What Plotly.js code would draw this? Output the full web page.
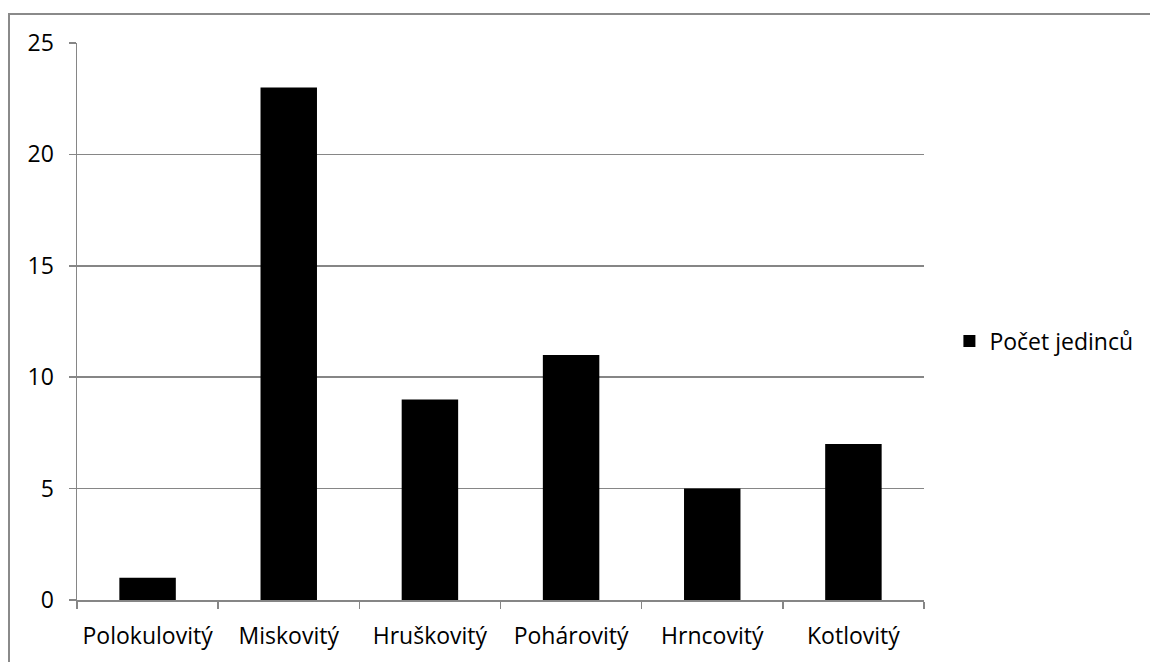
<!DOCTYPE html>
<html>
<head>
<meta charset="utf-8">
<script src="https://cdn.plot.ly/plotly-3.0.1.min.js"></script>
<style>
  html, body { margin: 0; padding: 0; background: #fff; }
  #chart { position: absolute; left: 0; top: 0; width: 1150px; height: 662px; }
  #frame { position: absolute; left: 8px; top: 13px; width: 1150px; height: 660px; border: 2px solid #8a8a8a; pointer-events: none; box-sizing: border-box; }
</style>
</head>
<body>
<div id="chart"></div>
<div id="frame"></div>
<script>
const categories = ["Polokulovitý", "Miskovitý", "Hruškovitý", "Pohárovitý", "Hrncovitý", "Kotlovitý"];
const values = [1, 23, 9, 11, 5, 7];
const seriesName = "Počet jedinců";
const yTicks = [0, 5, 10, 15, 20, 25];

const font = "'Open Sans', 'Noto Sans', sans-serif";

Plotly.newPlot("chart", [{
  type: "bar",
  x: categories,
  y: values,
  name: seriesName,
  marker: { color: "#000000", line: { color: "#000000", width: 0 } },
  showlegend: true
}], {
  width: 1150,
  height: 662,
  margin: { l: 77, r: 226, t: 43, b: 62 },
  paper_bgcolor: "#ffffff",
  plot_bgcolor: "#ffffff",
  bargap: 0.6,
  font: { family: font, size: 23, color: "#000000" },
  xaxis: {
    type: "category",
    tickson: "boundaries",
    ticks: "outside",
    ticklen: 7,
    tickwidth: 1.5,
    tickcolor: "#868686",
    showline: true,
    linecolor: "#868686",
    linewidth: 1.5,
    showgrid: false,
    ticklabelstandoff: 15,
    tickfont: { family: font, size: 23, color: "#000000" },
    fixedrange: true
  },
  yaxis: {
    range: [0, 25],
    tickvals: yTicks,
    ticktext: yTicks.map(String),
    ticks: "outside",
    ticklen: 7,
    tickwidth: 1.5,
    tickcolor: "#868686",
    showline: true,
    linecolor: "#868686",
    linewidth: 1.5,
    showgrid: true,
    gridcolor: "#868686",
    gridwidth: 1.5,
    zeroline: false,
    ticklabelstandoff: 10,
    tickfont: { family: font, size: 23, color: "#000000" },
    fixedrange: true
  },
  legend: {
    x: 1.03,
    y: 0.465,
    xanchor: "left",
    yanchor: "middle",
    font: { family: font, size: 23, color: "#000000" },
    bgcolor: "rgba(0,0,0,0)"
  }
}, { displayModeBar: false, staticPlot: true });
</script>
</body>
</html>
